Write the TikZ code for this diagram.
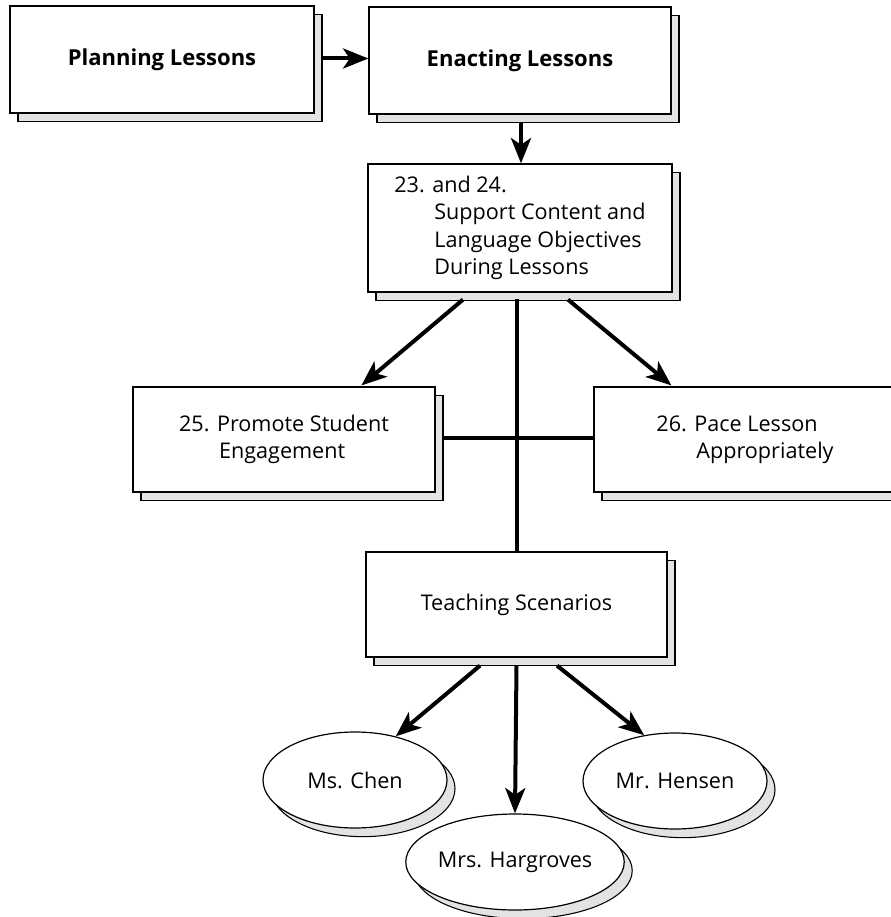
\documentclass[tikz,border=0pt]{standalone}
\usepackage{fontspec}
\setmainfont{Open Sans}
\usetikzlibrary{positioning, arrows.meta, shapes.geometric, shadows, calc}

\newcommand{\indentstep}{\hspace*{30pt}}

\tikzset{
  panel/.style={rectangle, draw, fill=white, line width=0.9pt, align=left,
    inner sep=0pt, font=\fontsize{16.2pt}{20.5pt}\selectfont,
    copy shadow={shadow xshift=6pt, shadow yshift=-6.5pt, fill=gray!22, draw=black, line width=0.8pt}},
  boldpanel/.style={panel, font=\fontsize{16.5pt}{20.5pt}\selectfont\bfseries},
  person/.style={panel, ellipse, minimum width=138pt, minimum height=72pt},
  heavy/.style={line width=3pt},
  arrow/.style={heavy, -{Stealth[length=19pt, width=15pt, inset=5pt]}},
}

\begin{document}
\begin{tikzpicture}[x=0.75pt, y=-0.75pt]
  \clip (0,0) rectangle (891,917);
  \node[boldpanel, minimum width=228pt, minimum height=80.25pt] (plan) at (162,59.5) {Planning Lessons};
  \node[boldpanel, minimum width=226.5pt, minimum height=80.25pt] (enact) at (520,60.5) {Enacting Lessons};
  \node[panel, minimum width=228pt, minimum height=96pt] (support) at (520,228)
    {23. and 24.\\\indentstep Support Content and\\\indentstep Language Objectives\\\indentstep During Lessons};
  \node[panel, minimum width=226.5pt, minimum height=78.75pt] (promote) at (284,439.5)
    {25. Promote Student\\\indentstep Engagement};
  \node[panel, minimum width=226.5pt, minimum height=78.75pt] (pace) at (745,439.5)
    {26. Pace Lesson\\\indentstep Appropriately};
  \node[panel, minimum width=225.75pt, minimum height=78.75pt] (scen) at (516.5,604.5) {Teaching Scenarios};
  \node[person] (chen) at (355,780) {Ms. Chen};
  \node[person] (hensen) at (675,781) {Mr. Hensen};
  \node[person] (harg) at (515,862) {Mrs. Hargroves};

  \draw[arrow] ($(plan.east)+(8,-1)$) -- ($(enact.west)+(0,-2)$);
  \draw[arrow] ($(enact.south)+(1,8)$) -- ($(support.north)+(1,0)$);
  \draw[arrow] ($(support.south)+(-57,7)$) -- ($(promote.north west)+(229,-1)$);
  \draw[arrow] ($(support.south)+(48,7)$) -- ($(pace.north west)+(78,-1)$);
  \draw[heavy] ($(scen.north |- support.south)+(0,6)$) -- (scen.north);
  \draw[heavy] ($(promote.east)+(8,-2)$) -- ($(pace.west)+(0,-2)$);
  \draw[arrow] ($(scen.south)+(-36.5,8)$) -- (chen.47);
  \draw[arrow] ($(scen.south)+(0,8)$) -- (harg.north);
  \draw[arrow] ($(scen.south)+(40.5,8)$) -- (hensen.124);
\end{tikzpicture}
\end{document}
